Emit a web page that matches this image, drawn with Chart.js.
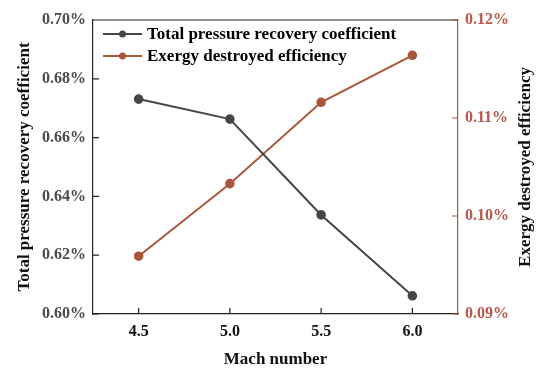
<!DOCTYPE html>
<html>
<head>
<meta charset="utf-8">
<script src="https://cdn.jsdelivr.net/npm/chart.js@4"></script>
<style>
  html, body { margin: 0; padding: 0; background: #fff; }
  #wrap { width: 550px; height: 380px; }
</style>
</head>
<body>
<div id="wrap"><canvas id="machChart" width="550" height="380"></canvas></div>
<script>
// Data
var mach_numbers = [4.5, 5.0, 5.5, 6.0];
var pressure_recovery = [0.6731, 0.6663, 0.6337, 0.6062];   // left axis, %
var exergy_destroyed = [0.0959, 0.1033, 0.1116, 0.1164];    // right axis, %
var series_labels = ['Total pressure recovery coefficient', 'Exergy destroyed efficiency'];
var axis_titles = ['Mach number', 'Total pressure recovery coefficient', 'Exergy destroyed efficiency'];

var GREY = '#454545';
var BROWN = '#a9563a';
var RED_TICK = '#b8584a';
var FONT = '"Liberation Serif", "Times New Roman", serif';

// inward tick marks, top frame line, vertical axis titles and an in-plot legend
var framePlugin = {
    id: 'frame',
    afterDraw: function(chart) {
        var ctx = chart.ctx, a = chart.chartArea;
        var sx = chart.scales.x, sl = chart.scales.yL, sr = chart.scales.yR;
        ctx.save();
        ctx.lineWidth = 1.2;
        ctx.strokeStyle = '#222';
        ctx.beginPath();
        ctx.moveTo(a.left, a.top); ctx.lineTo(a.right, a.top);
        sx.ticks.forEach(function(t) {
            var x = sx.getPixelForValue(t.value);
            ctx.moveTo(x, a.bottom); ctx.lineTo(x, a.bottom - 6);
        });
        sl.ticks.forEach(function(t) {
            var y = sl.getPixelForValue(t.value);
            ctx.moveTo(a.left, y); ctx.lineTo(a.left + 6, y);
        });
        ctx.stroke();
        ctx.strokeStyle = BROWN;
        ctx.beginPath();
        sr.ticks.forEach(function(t) {
            var y = sr.getPixelForValue(t.value);
            ctx.moveTo(a.right, y); ctx.lineTo(a.right - 6, y);
        });
        ctx.stroke();

        // y axis titles, both read bottom to top
        var midY = (a.top + a.bottom) / 2;
        ctx.font = 'bold 17px ' + FONT;
        ctx.fillStyle = '#111';
        ctx.textAlign = 'center';
        ctx.textBaseline = 'middle';
        [[25, axis_titles[1]], [526, axis_titles[2]]].forEach(function(p) {
            ctx.save();
            ctx.translate(p[0], midY);
            ctx.rotate(-Math.PI / 2);
            ctx.fillText(p[1], 0, 0);
            ctx.restore();
        });

        // legend
        ctx.font = 'bold 17px ' + FONT;
        ctx.textAlign = 'left';
        chart.data.datasets.forEach(function(ds, i) {
            var y = a.top + 14 + i * 22;
            var x0 = a.left + 10;
            ctx.strokeStyle = ds.borderColor;
            ctx.lineWidth = 2;
            ctx.beginPath(); ctx.moveTo(x0, y); ctx.lineTo(x0 + 39, y); ctx.stroke();
            ctx.fillStyle = ds.borderColor;
            ctx.beginPath(); ctx.arc(x0 + 19.5, y, 3.5, 0, Math.PI * 2); ctx.fill();
            ctx.fillStyle = '#000';
            ctx.fillText(ds.label, x0 + 44, y + 1);
        });
        ctx.restore();
    }
};

var ctx1 = document.getElementById('machChart').getContext('2d');
var machChart = new Chart(ctx1, {
    type: 'line',
    data: {
        datasets: [{
            label: series_labels[0],
            data: mach_numbers.map((m, i) => ({ x: m, y: pressure_recovery[i] })),
            borderColor: GREY,
            backgroundColor: GREY,
            borderWidth: 2,
            pointRadius: 3.8,
            pointHoverRadius: 3.8,
            yAxisID: 'yL'
        }, {
            label: series_labels[1],
            data: mach_numbers.map((m, i) => ({ x: m, y: exergy_destroyed[i] })),
            borderColor: BROWN,
            backgroundColor: BROWN,
            borderWidth: 2,
            pointRadius: 3.8,
            pointHoverRadius: 3.8,
            yAxisID: 'yR'
        }]
    },
    options: {
        responsive: false,
        animation: false,
        events: [],
        layout: { padding: { top: 20, left: 0, right: 0, bottom: 0 } },
        plugins: { legend: { display: false }, tooltip: { enabled: false } },
        scales: {
            x: {
                type: 'linear',
                min: 4.25, max: 6.25,
                afterBuildTicks: function(s) { s.ticks = mach_numbers.map(v => ({ value: v })); },
                afterFit: function(s) { s.height = 66; },
                grid: { display: false, drawTicks: false },
                border: { display: true, color: '#222', width: 1.2 },
                ticks: {
                    color: '#111', padding: 8,
                    font: { family: FONT, size: 16, weight: 'bold' },
                    callback: v => v.toFixed(1)
                },
                title: {
                    display: true, text: axis_titles[0], color: '#111',
                    font: { family: FONT, size: 17, weight: 'bold' },
                    padding: { top: 4, bottom: 10 }
                }
            },
            yL: {
                position: 'left',
                min: 0.60, max: 0.70,
                afterFit: function(s) { s.width = 93; },
                grid: { display: false, drawTicks: false },
                border: { display: true, color: '#222', width: 1.2 },
                ticks: {
                    stepSize: 0.02, color: '#4a4a4a', padding: 7,
                    font: { family: FONT, size: 16, weight: 'bold' },
                    callback: v => v.toFixed(2) + '%'
                }
            },
            yR: {
                position: 'right',
                min: 0.09, max: 0.12,
                afterFit: function(s) { s.width = 92; },
                grid: { display: false, drawTicks: false },
                border: { display: true, color: BROWN, width: 1.2 },
                ticks: {
                    stepSize: 0.01, color: RED_TICK, padding: 7,
                    font: { family: FONT, size: 16, weight: 'bold' },
                    callback: v => v.toFixed(2) + '%'
                }
            }
        }
    },
    plugins: [framePlugin]
});
</script>
</body>
</html>
